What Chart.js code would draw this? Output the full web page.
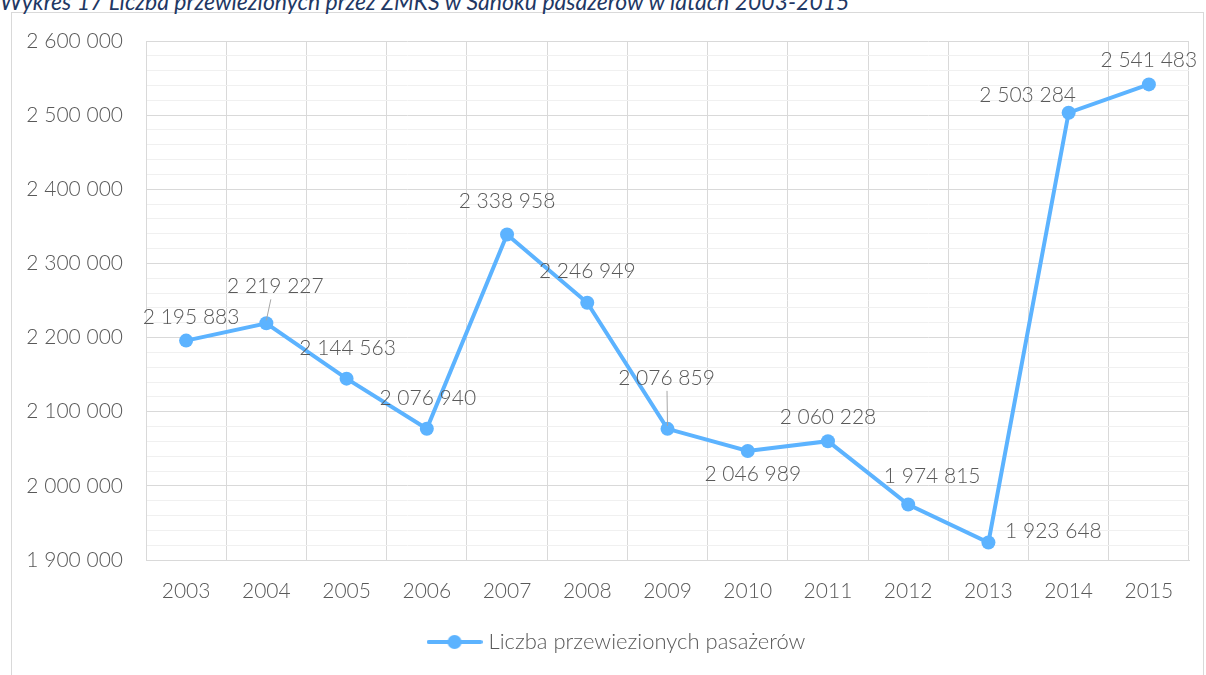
<!DOCTYPE html>
<html>
<head>
<meta charset="utf-8">
<script src="https://cdn.jsdelivr.net/npm/chart.js@4.4.1/dist/chart.umd.min.js"></script>
<style>
  body { margin: 0; background: #fff; width: 1206px; height: 675px; overflow: hidden; position: relative; }
  #frame { position: absolute; left: 11px; top: 12px; width: 1193px; height: 700px; border: 1px solid #d9d9d9; box-sizing: border-box; }
  #title { position: absolute; left: 0; top: -13px; font: italic 23px Lato, sans-serif; color: #1f3864; white-space: nowrap; }
  #wrap { position: absolute; left: 0; top: 0; width: 1206px; height: 675px; }
</style>
</head>
<body>
<div id="frame"></div>
<div id="title">Wykres 17 Liczba przewiezionych przez ZMKS w Sanoku pasażerów w latach 2003-2015</div>
<div id="wrap"><canvas id="chart"></canvas></div>
<script>
var years = ['2003', '2004', '2005', '2006', '2007', '2008', '2009', '2010', '2011', '2012', '2013', '2014', '2015'];
var passengers = [2195883, 2219227, 2144563, 2076940, 2338958, 2246949, 2076859, 2046989, 2060228, 1974815, 1923648, 2503284, 2541483];
var seriesName = 'Liczba przewiezionych pasażerów';

// where Excel put each data label, relative to its point [dx, dy]
var labelShift = [[5, -23], [9, -37], [1, -30], [1, -31], [0, -33], [0, -32], [-1, -51], [5, 23], [0, -24], [24, -28], [65, -11], [-41, -17], [0, -24]];
var leaderLine = [false, true, false, false, false, false, true, false, false, false, false, false, false];

var lineColor = '#5cb3ff';
var textColor = '#595959';
var fontFamily = 'Lato, "Open Sans", sans-serif';
var labelFont = { family: fontFamily, size: 21, weight: 300 };

var fmt = (v) => String(v).replace(/\B(?=(\d{3})+(?!\d))/g, ' ');

// legend marker: short line with a dot
var marker = document.createElement('canvas');
marker.width = 56; marker.height = 16;
(function () {
  var c = marker.getContext('2d');
  c.strokeStyle = lineColor; c.lineWidth = 4; c.lineCap = 'round';
  c.beginPath(); c.moveTo(2, 8); c.lineTo(54, 8); c.stroke();
  c.fillStyle = lineColor;
  c.beginPath(); c.arc(28, 8, 7, 0, Math.PI * 2); c.fill();
})();

var dataLabels = {
  id: 'dataLabels',
  afterLayout: function (chart) {
    // Excel centres the legend a bit further right than chart.js does
    chart.legend.left += 48;
  },
  afterDatasetsDraw: function (chart) {
    var ctx = chart.ctx;
    var meta = chart.getDatasetMeta(0);
    ctx.save();
    ctx.font = '300 21px ' + fontFamily;
    ctx.fillStyle = textColor;
    ctx.textAlign = 'center';
    ctx.textBaseline = 'middle';
    meta.data.forEach(function (pt, i) {
      var x = pt.x + labelShift[i][0], y = pt.y + labelShift[i][1];
      if (leaderLine[i]) {
        ctx.strokeStyle = '#a6a6a6'; ctx.lineWidth = 1;
        ctx.beginPath();
        ctx.moveTo(pt.x, pt.y - 3);
        ctx.lineTo(pt.x + labelShift[i][0] * 0.5, y + 13);
        ctx.stroke();
      }
      ctx.fillText(fmt(passengers[i]), x, y);
    });
    ctx.restore();
  }
};

new Chart(document.getElementById('chart'), {
  type: 'line',
  data: {
    labels: years,
    datasets: [{
      label: seriesName,
      data: passengers,
      borderColor: lineColor,
      backgroundColor: lineColor,
      borderWidth: 4,
      pointRadius: 7,
      pointHoverRadius: 7,
      pointBorderWidth: 0,
      tension: 0
    }]
  },
  options: {
    responsive: true,
    maintainAspectRatio: false,
    animation: false,
    layout: { padding: { top: 41, right: 17, bottom: 12, left: 0 } },
    plugins: {
      tooltip: { enabled: false },
      legend: {
        position: 'bottom',
        labels: {
          usePointStyle: true,
          pointStyle: marker,
          pointStyleWidth: 46,
          color: textColor,
          font: { family: fontFamily, size: 22, weight: 300 },
          padding: 10
        }
      }
    },
    scales: {
      x: {
        offset: true,
        grid: { offset: true, color: '#d9d9d9', drawTicks: false },
        border: { display: true, color: '#d9d9d9' },
        ticks: { color: textColor, font: labelFont, padding: 19 },
        afterFit: function (s) { s.height = 61; }
      },
      y: {
        min: 1900000,
        max: 2600000,
        grid: {
          drawTicks: false,
          color: (c) => (c.tick && c.tick.value % 100000 === 0) ? '#d9d9d9' : '#f0f0f0'
        },
        border: { display: true, color: '#d9d9d9' },
        ticks: {
          stepSize: 20000,
          autoSkip: false,
          color: textColor,
          font: labelFont,
          padding: 23,
          callback: (v) => v % 100000 === 0 ? fmt(v) : ''
        },
        afterFit: function (s) { s.width = 146; }
      }
    }
  },
  plugins: [dataLabels]
});
</script>
</body>
</html>
